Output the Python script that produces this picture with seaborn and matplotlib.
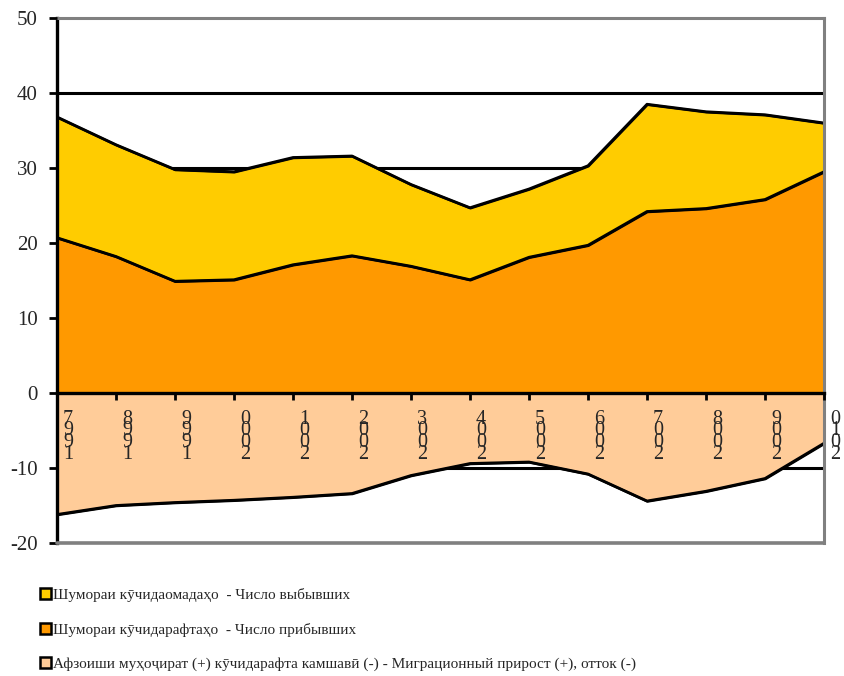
import matplotlib
matplotlib.use("Agg")
import matplotlib.pyplot as plt
import matplotlib.transforms as mtransforms
from matplotlib.patches import Patch
import seaborn as sns
import pandas as pd

years = [1997, 1998, 1999, 2000, 2001, 2002, 2003, 2004, 2005, 2006, 2007, 2008, 2009, 2010]
departed = [36.8, 33.1, 29.8, 29.5, 31.4, 31.6, 27.8, 24.7, 27.2, 30.3, 38.5, 37.5, 37.1, 36.0]
arrived = [20.7, 18.2, 14.9, 15.1, 17.1, 18.3, 16.9, 15.1, 18.1, 19.7, 24.2, 24.6, 25.8, 29.5]
migration = [-16.2, -15.0, -14.6, -14.3, -13.9, -13.4, -11.0, -9.4, -9.2, -10.8, -14.4, -13.1, -11.4, -6.7]
labels = ["Шумораи кӯчидаомадаҳо  - Число выбывших",
          "Шумораи кӯчидарафтаҳо  - Число прибывших",
          "Афзоиши муҳоҷират (+) кӯчидарафта камшавӣ (-) - Миграционный прирост (+), отток (-)"]
colors = ["#FFCC00", "#FF9900", "#FFCC99"]
y_ticks = [-20, -10, 0, 10, 20, 30, 40, 50]

sns.set_theme(style="white")
plt.rcParams['font.family'] = ['Liberation Serif', 'DejaVu Serif']

df = pd.DataFrame({"idx": range(len(years)), "dep": departed, "arr": arrived, "mig": migration})

fig = plt.figure(figsize=(8.44, 6.76), dpi=100)
ax = fig.add_axes([57/844, 1-543/676, (824-57)/844, (543-18)/676])
ax.set_axisbelow(False)

# gridlines
for v in [40, 30, 20, 10, -10]:
    ax.axhline(v, color="black", lw=2.2, zorder=0)

for col, c in zip(["dep", "arr", "mig"], colors):
    ax.fill_between(df["idx"], 0, df[col], facecolor=c, edgecolor="black", lw=1.8, zorder=1)
    sns.lineplot(data=df, x="idx", y=col, color="black", lw=2.0, ax=ax, zorder=2)

ax.set_xlim(0, len(years) - 1)
ax.set_ylim(-20, 50)
ax.set_xlabel("")
ax.set_ylabel("")

# spines
ax.spines['left'].set_color("black")
ax.spines['left'].set_linewidth(2.4)
ax.spines['bottom'].set_position(('data', 0))
ax.spines['bottom'].set_color("black")
ax.spines['bottom'].set_linewidth(2.4)
ax.spines['bottom'].set_zorder(3)
for s in ['top', 'right']:
    ax.spines[s].set_color("#808080")
    ax.spines[s].set_linewidth(2.2)
ax.axhline(-20, color="#808080", lw=2.6, zorder=3, clip_on=False)

ax.set_yticks(y_ticks)
ax.set_yticklabels([str(v) for v in y_ticks], fontsize=15)
ax.tick_params(axis='y', direction='out', length=6, width=2, color='black', pad=8, left=True)

ax.set_xticks(list(range(len(years))))
ax.set_xticklabels(["\n".join(reversed(str(y))) for y in years], fontsize=14.5,
                   linespacing=0.48, va='top')
ax.tick_params(axis='x', direction='out', length=5, width=2, color='black', pad=7, bottom=True)
offset = mtransforms.ScaledTranslation(0.11, 0, fig.dpi_scale_trans)
for lab in ax.get_xticklabels():
    lab.set_transform(lab.get_transform() + offset)

handles = [Patch(facecolor=c, edgecolor="black", lw=1.8) for c in colors]
fig.legend(handles, labels, loc='upper left', bbox_to_anchor=(40/844, 1-588/676),
           frameon=False, fontsize=11, handlelength=0.7, handleheight=0.75,
           handletextpad=0.15, labelspacing=1.35, borderaxespad=0, borderpad=0)

fig.savefig("out.png", dpi=100)
